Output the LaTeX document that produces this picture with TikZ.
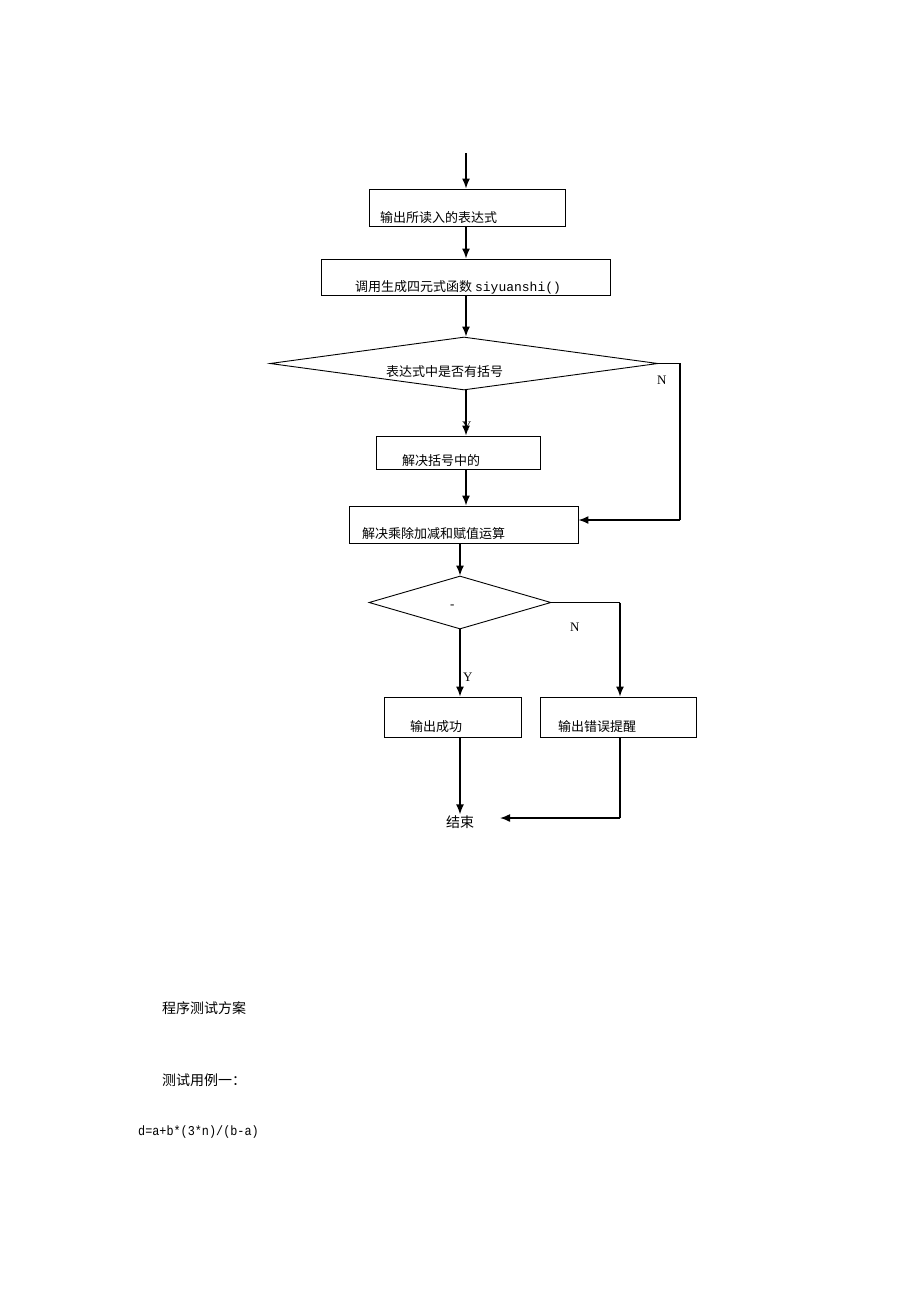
\documentclass[tikz,border=0pt]{standalone}
\usepackage{fontspec}
\setmainfont{Liberation Serif}
\newfontfamily\cjk{Noto Sans CJK SC}
\newfontfamily\lmono{Liberation Mono}
\newfontfamily\lmonon[FakeStretch=0.875]{Liberation Mono}
\usetikzlibrary{shapes.geometric,arrows.meta}
\begin{document}
\begin{tikzpicture}[x=1pt,y=-1pt,
  box/.style={draw, line width=0.9pt, inner sep=0pt},
  dia/.style={draw, diamond, line width=0.9pt, inner sep=0pt},
  arr/.style={line width=1.5pt, -{Latex[length=10pt,width=8pt]}},
  ln/.style={line width=1.2pt},
  txt/.style={font=\cjk\fontsize{13}{13}\selectfont, anchor=base west, inner sep=0pt},
  lab/.style={font=\fontsize{13}{13}\selectfont, anchor=base west, inner sep=0pt}]
\fill[white] (0,0) rectangle (920,1302);
\useasboundingbox (0,0) rectangle (920,1302);

% shapes
\node[box, minimum width=196pt, minimum height=37pt] (b1) at (467,207.5) {};
\node[box, minimum width=289pt, minimum height=36pt] (b2) at (465.5,277) {};
\node[dia, minimum width=388pt, minimum height=53pt] (d1) at (464,363.5) {};
\node[box, minimum width=164pt, minimum height=33pt] (b3) at (458,452.5) {};
\node[box, minimum width=229pt, minimum height=37pt] (b4) at (463.5,524.5) {};
\node[dia, minimum width=182pt, minimum height=53pt] (d2) at (460,602.5) {};
\node[box, minimum width=137pt, minimum height=40pt] (b5) at (452.5,717) {};
\node[box, minimum width=156pt, minimum height=40pt] (b6) at (618,717) {};
\node[font=\cjk\fontsize{14}{14}\selectfont, inner sep=1pt] (end) at (460,822) {结束};

% texts inside
\node[txt] (t1) at (380,222) {输出所读入的表达式};
\node[txt] (t2) at (355,291) {调用生成四元式函数 {\lmono siyuanshi()}};
\node[txt] (t3) at (386,376) {表达式中是否有括号};
\node[txt] (t4) at (402,465) {解决括号中的};
\node[txt] (t5) at (362,538) {解决乘除加减和赋值运算};
\node[lab] (t6) at (450,608) {-};
\node[txt] (t7) at (410,731) {输出成功};
\node[txt] (t8) at (558,731) {输出错误提醒};

% labels
\node[lab] (n1l) at (657,384) {N};
\node[lab] (y1l) at (462,430) {Y};
\node[lab] (n2l) at (570,631) {N};
\node[lab] (y2l) at (463,681) {Y};

% connectors
\coordinate (s0) at (466,153);
\draw[arr] (s0) -- (s0 |- b1.north);
\draw[arr] (b1.south -| s0) -- (s0 |- b2.north);
\draw[arr] (b2.south -| s0) -- (d1.north -| s0);
\draw[arr] (d1.south -| s0) -- (s0 |- b3.north);
\draw[arr] (b3.south -| s0) -- (s0 |- b4.north);
\coordinate (r1) at (680,363.5);
\coordinate (r2) at (680,520);
\draw[ln] (d1.east) -- (r1) -- (r2);
\draw[arr] (r2) -- (r2 -| b4.east);
\draw[arr] (b4.south -| d2.north) -- (d2.north);
\coordinate (r3) at (620,602.5);
\draw[ln] (d2.east) -- (r3);
\draw[arr] (r3) -- (r3 |- b6.north);
\draw[arr] (d2.south) -- (d2.south |- b5.north);
\draw[arr] (b5.south -| d2.south) -- (end.north);
\coordinate (r4) at (620,818);
\draw[ln] (r4 |- b6.south) -- (r4);
\draw[arr] (r4) -- (500,818);

% bottom texts
\node[font=\cjk\fontsize{14}{14}\selectfont, anchor=base west, inner sep=0pt] (h1) at (162,1013) {程序测试方案};
\node[font=\cjk\fontsize{14}{14}\selectfont, anchor=base west, inner sep=0pt] (h2) at (162,1085) {测试用例一：};
\node[font=\lmonon\fontsize{13.5}{14}\selectfont, anchor=base west, inner sep=0pt] (h3) at (138,1135) {d=a+b*(3*n)/(b-a)};
\end{tikzpicture}
\end{document}
